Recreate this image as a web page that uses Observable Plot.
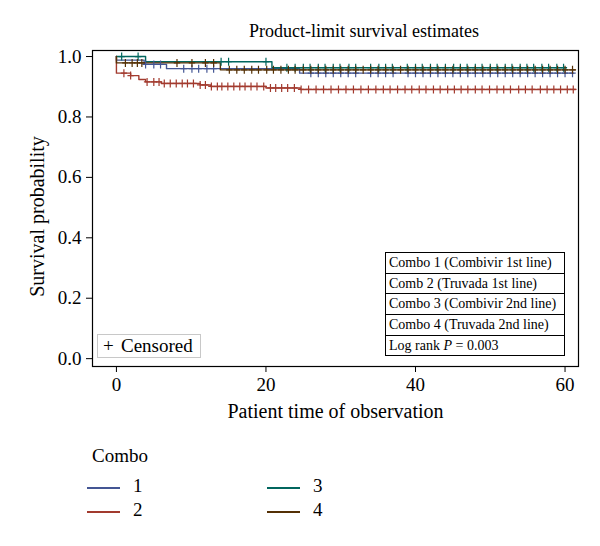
<!DOCTYPE html>
<html>
<head>
<meta charset="utf-8">
<script src="https://cdn.jsdelivr.net/npm/d3@7"></script>
<script src="https://cdn.jsdelivr.net/npm/@observablehq/plot@0.6"></script>
<style>
  html, body { margin: 0; padding: 0; background: #fff; }
  #wrap { position: relative; width: 600px; height: 546px; overflow: hidden; font-family: "Liberation Serif", "DejaVu Serif", serif; color: #000; }
  #title { position: absolute; left: 0; width: 728px; top: 21px; text-align: center; font-size: 18px; }
  #chart { position: absolute; left: 0; top: 40px; }
  #inset { position: absolute; left: 385px; top: 252px; width: 178px; border: 1px solid #000; background: #fff; font-size: 14px; }
  #inset div { height: 19.7px; line-height: 19.7px; padding-left: 3px; border-bottom: 1px solid #000; white-space: nowrap; }
  #inset div:last-child { border-bottom: none; }
  #cens { position: absolute; left: 97px; top: 334px; width: 102px; height: 22px; border: 1px solid #c8c8c8; background: #fff; font-size: 19px; line-height: 22px; white-space: nowrap; }
  #legend { position: absolute; left: 0; top: 430px; width: 600px; height: 116px; font-size: 19px; }
  .lg { position: absolute; }
  .sw { position: absolute; height: 2px; width: 33px; }
</style>
</head>
<body>
<div id="wrap">
  <div id="title">Product-limit survival estimates</div>
  <div id="chart"></div>
  <div id="inset"></div>
  <div id="cens"><span style="position:absolute;left:5px;">+</span><span style="position:absolute;left:23px;">Censored</span></div>
  <div id="legend"></div>
</div>
<script>
// ---- data ----
const combos = ["1", "2", "3", "4"];
const comboColors = ["#445694", "#A23A2E", "#01665E", "#543005"];
const insetLabels = ["Combo 1 (Combivir 1st line)", "Comb 2 (Truvada 1st line)", "Combo 3 (Combivir 2nd line)", "Combo 4 (Truvada 2nd line)"];
const xTicks = [0, 20, 40, 60];
const yTicks = [0, 0.2, 0.4, 0.6, 0.8, 1.0];

// step-function knots (time, survival)
const times1 = [0, 0, 3.7, 6.7, 24.5, 61.1];
const surv1  = [1.0, 0.988, 0.974, 0.960, 0.945, 0.945];
const times2 = [0, 0, 1.9, 3.0, 3.9, 6.0, 11.2, 12.6, 20.0, 24.6, 61.4];
const surv2  = [1.0, 0.945, 0.937, 0.924, 0.916, 0.911, 0.906, 0.901, 0.896, 0.891, 0.891];
const times3 = [0, 3.9, 20.8, 60.2];
const surv3  = [1.0, 0.983, 0.963, 0.963];
const times4 = [0, 0, 13.9, 61.4];
const surv4  = [1.0, 0.979, 0.956, 0.956];

// censoring times
const cens1 = [3.9, 5.0, 5.9, 9.0, 10.1, 11.0, 12.1, 13.0, 26, 27, 28, 29, 30, 31, 32, 34, 35, 36, 37, 39, 40, 41, 42, 43, 44, 45, 46, 47, 48, 49, 50, 51, 52, 53, 54, 55, 56, 57, 58, 59, 60, 61];
const cens2 = [1.0, 1.9, 4.1, 5.0, 5.7, 6.4, 7.2, 8.0, 8.8, 9.5, 10.3, 11.2, 11.9, 12.7, 13.5, 14.1, 14.9, 15.7, 16.5, 17.2, 18.0, 18.8, 19.7, 20.6, 21.3, 22.1, 22.9, 23.8, 24.7, 25.7, 26.7, 27.7, 28.7, 29.7, 30.7, 31.7, 32.7, 33.7, 34.7, 35.7, 36.6, 37.6, 38.6, 39.5, 40.5, 41.4, 42.4, 43.3, 44.3, 45.2, 46.1, 47.0, 48.0, 48.9, 49.9, 50.9, 51.8, 52.7, 53.8, 54.7, 55.6, 56.7, 57.6, 58.5, 59.4, 60.3, 61.1];
const cens3 = [0.7, 2.9, 14.0, 15.0, 20.0, 22.8, 23.9, 25.0, 25.9, 27.0, 27.9, 29.0, 29.9, 31.1, 32.0, 34.0, 35.1, 36.0, 36.9, 38.9, 40.0, 40.9, 42.0, 42.9, 44.0, 45.1, 46.0, 46.9, 48.0, 48.9, 50.0, 50.9, 52.0, 52.9, 54.0, 54.9, 55.8, 56.9, 57.8, 58.9, 59.8];
const cens4 = [1.2, 2.1, 2.8, 3.4, 8.1, 10.1, 11.9, 13.0, 15.1, 16.1, 17.1, 18.1, 19.0, 20.1, 21.0, 22.0, 23.0, 23.9, 25.0, 26.0, 27.0, 28.0, 29.0, 30.0, 31.0, 32.0, 33.0, 34.0, 35.0, 36.0, 37.0, 38.0, 39.0, 40.0, 41.0, 42.0, 43.0, 44.0, 45.0, 46.0, 47.0, 48.0, 49.0, 50.0, 51.0, 52.0, 53.0, 54.0, 55.0, 56.0, 57.0, 58.0, 59.0, 60.0, 61.0];

// ---- build tables ----
const groups = [
  {combo: "1", times: times1, surv: surv1, cens: cens1},
  {combo: "2", times: times2, surv: surv2, cens: cens2},
  {combo: "3", times: times3, surv: surv3, cens: cens3},
  {combo: "4", times: times4, surv: surv4, cens: cens4}
];
function survAt(g, t) {
  let s = g.surv[0];
  for (let i = 0; i < g.times.length; i++) if (g.times[i] <= t) s = g.surv[i];
  return s;
}
const stepData = groups.flatMap(g => g.times.map((t, i) => ({combo: g.combo, t, s: g.surv[i]})));
const censData = groups.flatMap(g => g.cens.map(t => ({combo: g.combo, t, s: survAt(g, t)})));

const plusSymbol = {
  draw(ctx, size) {
    const r = Math.sqrt(size / Math.PI);
    ctx.moveTo(-r * 0.8, 0); ctx.lineTo(r * 0.8, 0);
    ctx.moveTo(0, -r); ctx.lineTo(0, r);
  }
};

const chart = Plot.plot({
  width: 600,
  height: 390,
  marginLeft: 92,
  marginRight: 22,
  marginTop: 10,
  marginBottom: 64,
  style: {fontFamily: "Liberation Serif, DejaVu Serif, serif", fontSize: "18px", color: "#000", background: "#fff"},
  x: {domain: [-3.2, 61.8]},
  y: {domain: [-0.026, 1.02]},
  color: {domain: combos, range: comboColors},
  marks: [
    Plot.frame({stroke: "#000", strokeWidth: 1.2}),
    Plot.axisX({ticks: xTicks, tickSize: 6, tickPadding: 5, label: null, fontSize: 19}),
    Plot.axisY({ticks: yTicks, tickSize: 6, tickPadding: 5, tickFormat: d3.format(".1f"), label: null, fontSize: 19}),
    Plot.line(stepData, {x: "t", y: "s", z: "combo", stroke: "combo", curve: "step-after", strokeWidth: 1.4}),
    Plot.dot(censData, {x: "t", y: "s", stroke: "combo", symbol: plusSymbol, r: 4, fill: "none", strokeWidth: 1.2}),
    Plot.text(["Patient time of observation"], {frameAnchor: "bottom", dy: 45, fontSize: 20, lineAnchor: "middle", textAnchor: "middle"}),
    Plot.text(["Survival probability"], {frameAnchor: "left", dx: -55, dy: 8, rotate: -90, fontSize: 20, lineAnchor: "middle", textAnchor: "middle"})
  ]
});
document.getElementById("chart").appendChild(chart);

// inset text box
const inset = document.getElementById("inset");
insetLabels.forEach(l => { const d = document.createElement("div"); d.textContent = l; inset.appendChild(d); });
const pRow = document.createElement("div");
pRow.innerHTML = "Log rank <i>P</i> = 0.003";
inset.appendChild(pRow);

// bottom legend
const legend = document.getElementById("legend");
const head = document.createElement("div");
head.className = "lg"; head.style.left = "92px"; head.style.top = "15px"; head.textContent = "Combo";
legend.appendChild(head);
combos.forEach((c, i) => {
  const col = Math.floor(i / 2), row = i % 2;
  const x0 = col === 0 ? 87 : 267;
  const yc = row === 0 ? 57 : 81;
  const sw = document.createElement("div");
  sw.className = "sw"; sw.style.left = x0 + "px"; sw.style.top = yc + "px"; sw.style.background = comboColors[i];
  legend.appendChild(sw);
  const tx = document.createElement("div");
  tx.className = "lg"; tx.style.left = (x0 + 46) + "px"; tx.style.top = (yc - 12) + "px"; tx.textContent = c;
  legend.appendChild(tx);
});
</script>
</body>
</html>
